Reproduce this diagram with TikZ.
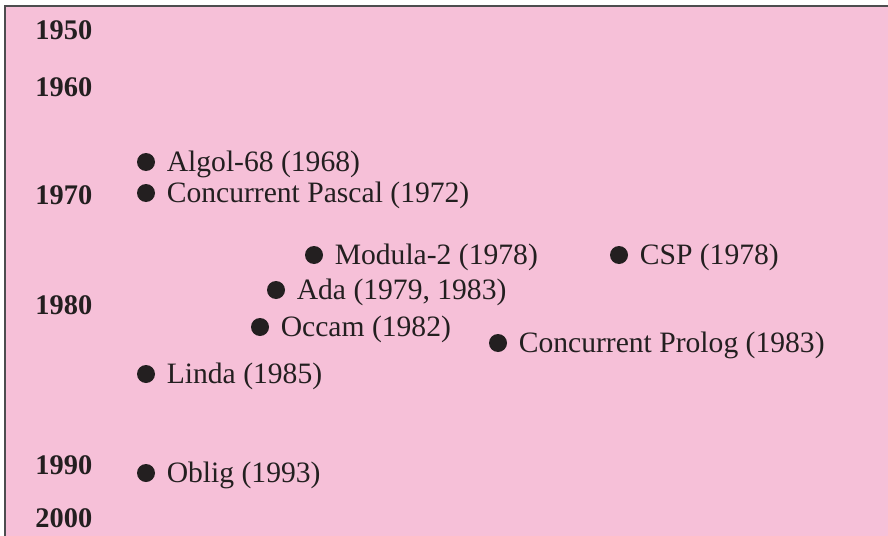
\documentclass[tikz,border=0pt]{standalone}
\usepackage{fontspec}
\setmainfont{Liberation Serif}
\usetikzlibrary{positioning}
\definecolor{bgpink}{HTML}{F6C0D8}
\definecolor{ink}{HTML}{231F20}
\definecolor{framegray}{HTML}{4D4D4F}

\begin{document}
\begin{tikzpicture}[x=0.5pt, y=-0.5pt,
    dot/.style={circle, fill=ink, minimum size=9pt, inner sep=0pt},
    lang/.style={inner sep=0pt, text=ink, font=\fontsize{14.8}{17}\selectfont, text height=9.8pt, text depth=0pt},
    yearlabel/.style={anchor=west, inner sep=0pt, text=ink, font=\fontsize{14.2}{17}\selectfont\bfseries, text height=9.7pt, text depth=0pt}
]
\useasboundingbox (0,0) rectangle (888,535);
\fill[white] (0,0) rectangle (888,535);
\clip (0,0) rectangle (888,535);
\draw[framegray, line width=1pt, fill=bgpink] (5,6) rectangle (900,550);

% years
\node[yearlabel](y1950) at (35,30){1950};
\node[yearlabel](y1960) at (35,87){1960};
\node[yearlabel](y1970) at (35,195){1970};
\node[yearlabel](y1980) at (35,305){1980};
\node[yearlabel](y1990) at (35,465){1990};
\node[yearlabel](y2000) at (35,518){2000};

% languages
\node[dot](algol) at (146,162){};
\node[lang](algoltxt)[right = 5.5pt of algol]{Algol-68 (1968)};

\node[dot](pascal) at (146,193){};
\node[lang](pascaltxt)[right = 5.5pt of pascal]{Concurrent Pascal (1972)};

\node[dot](modula) at (314,255){};
\node[lang](modulatxt)[right = 5.5pt of modula]{Modula-2 (1978)};

\node[dot](csp) at (619,255){};
\node[lang](csptxt)[right = 5.5pt of csp]{CSP (1978)};

\node[dot](ada) at (276,290){};
\node[lang](adatxt)[right = 5.5pt of ada]{Ada (1979, 1983)};

\node[dot](occam) at (260,327){};
\node[lang](occamtxt)[right = 5.5pt of occam]{Occam (1982)};

\node[dot](prolog) at (498,343){};
\node[lang](prologtxt)[right = 5.5pt of prolog]{Concurrent Prolog (1983)};

\node[dot](linda) at (146,374){};
\node[lang](lindatxt)[right = 5.5pt of linda]{Linda (1985)};

\node[dot](oblig) at (146,473){};
\node[lang](obligtxt)[right = 5.5pt of oblig]{Oblig (1993)};
\end{tikzpicture}
\end{document}
